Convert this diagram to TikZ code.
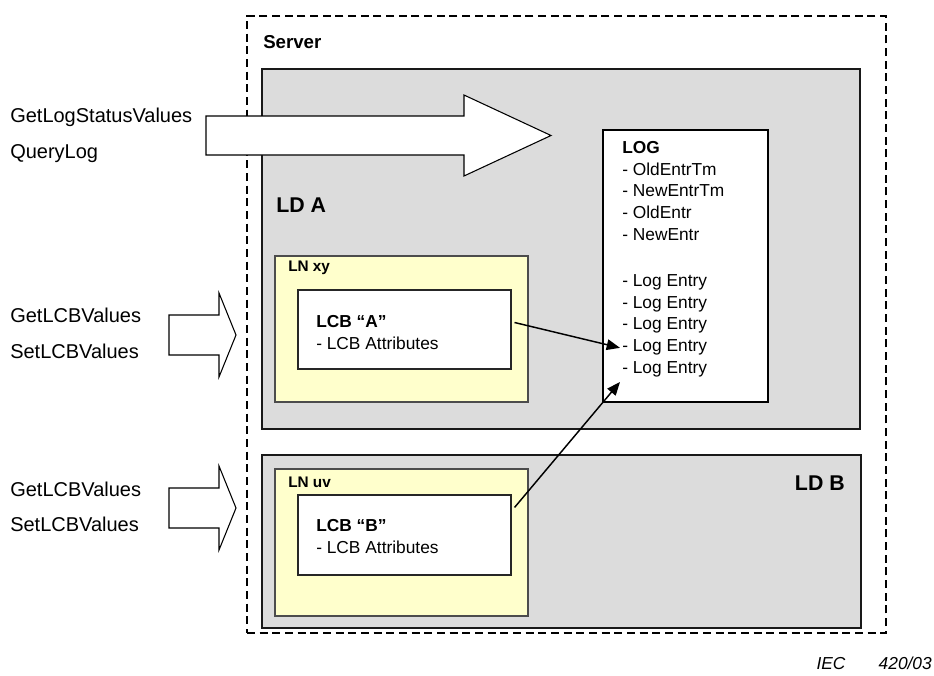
\documentclass[tikz,border=0pt]{standalone}
\usepackage{fontspec}
\setmainfont{Liberation Sans}
\usetikzlibrary{fit,arrows.meta}
\definecolor{ldgray}{HTML}{DCDCDC}
\definecolor{lnyellow}{HTML}{FFFFCC}
\begin{document}
\begin{tikzpicture}[x=0.75pt,y=-0.75pt,
  serverbox/.style={draw, dash pattern=on 6pt off 3.5pt, line width=1.3pt, inner sep=0pt},
  ldbox/.style={draw=black!90, fill=ldgray, line width=1.1pt, inner sep=0pt},
  lnbox/.style={draw=black!70, fill=lnyellow, line width=0.8pt, inner sep=0pt},
  whitebox/.style={draw=black!85, fill=white, line width=0.8pt, inner sep=0pt},
  blockarrow/.style={draw=black, fill=white, line width=0.8pt, line join=miter},
  lbl/.style={inner sep=0pt, anchor=base west, font=\fontsize{15pt}{18pt}\selectfont},
  boxtxt/.style={inner sep=0pt, anchor=base west, font=\fontsize{13pt}{16pt}\selectfont},
  logline/.style={inner sep=0pt, text height=11pt, text depth=5pt, anchor=north west, font=\fontsize{13pt}{16pt}\selectfont},
  link/.style={-{Triangle[length=10pt,width=8pt]}, line width=1.1pt},
]
\useasboundingbox (0,0) rectangle (934,675);

% containers
\node[serverbox, fit={(247,16) (886,633)}] (server) {};
\node[inner sep=0pt, anchor=base west, font=\fontsize{14pt}{16pt}\selectfont\bfseries] (serverlbl) at (263,48) {Server};

\node[ldbox, fit={(262,69) (860,429)}] (ldA) {};
\node[ldbox, fit={(262,455) (861,628)}] (ldB) {};
\node[inner sep=0pt, anchor=base west, font=\fontsize{16pt}{18pt}\selectfont\bfseries] (ldAlbl) at (276,212) {LD A};
\node[inner sep=0pt, anchor=base east, font=\fontsize{16pt}{18pt}\selectfont\bfseries] (ldBlbl) at (845,490) {LD B};

\node[lnbox, fit={(275,256) (528,402)}] (lnxy) {};
\node[lnbox, fit={(275,469) (528,616)}] (lnuv) {};
\node[inner sep=0pt, anchor=west, font=\fontsize{11.5pt}{14pt}\selectfont\bfseries] (lnxylbl) at (288,268) {LN xy};
\node[inner sep=0pt, anchor=west, font=\fontsize{11.5pt}{14pt}\selectfont\bfseries] (lnuvlbl) at (288,482) {LN uv};

\node[whitebox, fit={(298,290) (511,369)}] (lcbA) {};
\node[whitebox, fit={(298,495) (511,575)}] (lcbB) {};
\node[boxtxt, font=\fontsize{13pt}{16pt}\selectfont\bfseries] (lcbAt) at (316,327) {LCB “A”};
\node[boxtxt] (lcbAa) at (316,349) {- LCB Attributes};
\node[boxtxt, font=\fontsize{13pt}{16pt}\selectfont\bfseries] (lcbBt) at (316,531) {LCB “B”};
\node[boxtxt] (lcbBa) at (316,553) {- LCB Attributes};

% LOG
\node[whitebox, draw=black, fit={(603,130) (768,402)}] (log) {};
\node[logline, font=\fontsize{13pt}{16pt}\selectfont\bfseries] (h0) at (622,138.3) {LOG};
\node[logline] (h1) at (h0.south west) {- OldEntrTm};
\node[logline] (h2) at (h1.south west) {- NewEntrTm};
\node[logline] (h3) at (h2.south west) {- OldEntr};
\node[logline] (h4) at (h3.south west) {- NewEntr};
\node[logline] (e1) at (622,271.3) {- Log Entry};
\node[logline] (e2) at (e1.south west) {- Log Entry};
\node[logline] (e3) at (e2.south west) {- Log Entry};
\node[logline] (e4) at (e3.south west) {- Log Entry};
\node[logline] (e5) at (e4.south west) {- Log Entry};

% connectors
\draw[link] ([shift={(3,-7)}]lcbA.east) -- ([xshift=-1.5pt]e4.west);
\draw[link] ([shift={(3,13)}]lcbB.north east) -- ([shift={(-1.5pt,-1pt)}]e5.south west);

% block arrows
\draw[blockarrow] (206,116) -- (464,116) -- (464,95) -- (551,135.5) -- (464,176) -- (464,155) -- (206,155) -- cycle;
\draw[blockarrow] (169,315) -- (219,315) -- (219,293) -- (236,335) -- (219,377) -- (219,355) -- (169,355) -- cycle;
\draw[blockarrow] (169,488) -- (219,488) -- (219,466) -- (236,508) -- (219,550) -- (219,528) -- (169,528) -- cycle;

% side labels
\node[lbl] (q1) at (10,122) {GetLogStatusValues};
\node[lbl] (q2) at (10,158) {QueryLog};
\node[lbl] (g1) at (10,322) {GetLCBValues};
\node[lbl] (s1) at (10,358) {SetLCBValues};
\node[lbl] (g2) at (10,496) {GetLCBValues};
\node[lbl] (s2) at (10,531) {SetLCBValues};

% figure id
\node[inner sep=0pt, anchor=base east, font=\fontsize{13pt}{15pt}\selectfont\itshape] (iec) at (932,669) {IEC\hspace{25pt}420/03};
\end{tikzpicture}
\end{document}
